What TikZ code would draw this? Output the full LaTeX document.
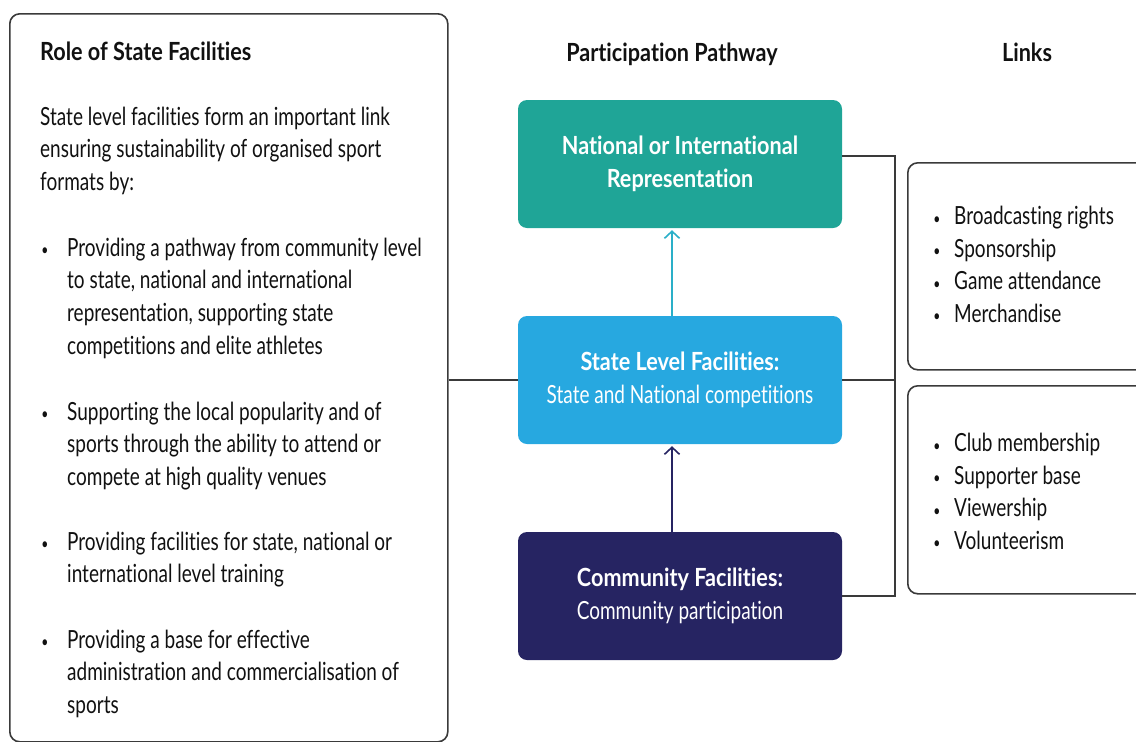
\documentclass[tikz,border=0pt]{standalone}
\usepackage{fontspec}
\setmainfont{Lato}[FakeStretch=0.76,Ligatures=NoCommon,BoldFeatures={FakeStretch=0.865}]
\usetikzlibrary{arrows.meta}
\definecolor{tealbox}{HTML}{1FA597}
\definecolor{bluebox}{HTML}{27A8E0}
\definecolor{navybox}{HTML}{262462}
\definecolor{arrowteal}{HTML}{2AAFC8}
\definecolor{linegrey}{HTML}{3A3A3A}
\definecolor{txt}{HTML}{111111}
\tikzset{
  panel/.style={draw=linegrey, line width=1.6pt, rounded corners=10pt, fill=white, inner sep=0pt, anchor=north west},
  pathbox/.style={rounded corners=9pt, minimum width=324pt, minimum height=128pt, inner sep=0pt, align=center, text=white, font=\fontsize{25}{32.7}\selectfont},
  body/.style={anchor=base west, inner sep=0pt, text=txt, align=left, font=\fontsize{25}{32.7}\selectfont},
  heading/.style={anchor=base, inner sep=0pt, text=txt, font=\fontsize{25}{32.7}\selectfont\bfseries},
  dot/.style={anchor=base, inner sep=0pt, text=txt, yshift=1pt, font=\fontsize{16}{32.7}\selectfont},
  link/.style={draw=linegrey, line width=1.4pt},
  uparrow/.style={line width=1.6pt, -{Straight Barb[length=7pt,width=15pt]}}
}
\begin{document}
\begin{tikzpicture}[x=1pt,y=-1pt]
\useasboundingbox (0,0) rectangle (1136,742);
\clip (0,0) rectangle (1136,742);
% left panel
\node[panel, minimum width=438pt, minimum height=728pt] (role) at (9,13) {};
\node[heading, anchor=base west] (roletitle) at (40,60) {Role of State Facilities};
% multi-line nodes: base anchor = baseline of last line
\node[body] (intro) at (40,190.4) {State level facilities form an important link\\ensuring sustainability of organised sport\\formats by:};
\node[dot] (d1) at (45,256) {•};
\node[body] (b1) at (67,354.1) {Providing a pathway from community level\\to state, national and international\\representation, supporting state\\competitions and elite athletes};
\node[dot] (d2) at (45,420) {•};
\node[body] (b2) at (67,485.4) {Supporting the local popularity and of\\sports through the ability to attend or\\compete at high quality venues};
\node[dot] (d3) at (45,550) {•};
\node[body] (b3) at (67,582.7) {Providing facilities for state, national or\\international level training};
\node[dot] (d4) at (45,648) {•};
\node[body] (b4) at (67,713.4) {Providing a base for effective\\administration and commercialisation of\\sports};
% headings
\node[heading] (pathhead) at (672,61) {Participation Pathway};
\node[heading] (linkhead) at (1027,61) {Links};
% pathway boxes
\node[pathbox, fill=tealbox] (nat) at (680,164) {\bfseries National or International\\\bfseries Representation};
\node[pathbox, fill=bluebox] (state) at (680,380) {\bfseries State Level Facilities:\\State and National competitions};
\node[pathbox, fill=navybox] (comm) at (680,596) {\bfseries Community Facilities:\\Community participation};
% arrows
\coordinate (a1s) at ([xshift=-8pt]state.north);
\coordinate (a1e) at ([xshift=-8pt,yshift=-2pt]nat.south);
\draw[uparrow, draw=arrowteal] (a1s) -- (a1e);
\coordinate (a2s) at ([xshift=-8pt]comm.north);
\coordinate (a2e) at ([xshift=-8pt,yshift=-2pt]state.south);
\draw[uparrow, draw=navybox] (a2s) -- (a2e);
% link panels
\node[panel, minimum width=260pt, minimum height=207pt] (linkA) at (907,162) {};
\node[panel, minimum width=260pt, minimum height=208pt] (linkB) at (907,385) {};
\node[body] (t1) at (954,322.5) {Broadcasting rights\\Sponsorship\\Game attendance\\Merchandise};
\node[dot] (e1) at (937,225) {•};
\node[dot] (e2) at (937,257.5) {•};
\node[dot] (e3) at (937,290) {•};
\node[dot] (e4) at (937,322.5) {•};
\node[body] (t2) at (954,549.5) {Club membership\\Supporter base\\Viewership\\Volunteerism};
\node[dot] (f1) at (937,452) {•};
\node[dot] (f2) at (937,484.5) {•};
\node[dot] (f3) at (937,517) {•};
\node[dot] (f4) at (937,549.5) {•};
% connectors
\coordinate (bus) at (895,0);
\draw[link] (role.east |- state.west) -- (state.west);
\draw[link] ([yshift=8pt]nat.east) -- ([yshift=8pt]nat.east -| bus) -- (comm.east -| bus) -- (comm.east);
\draw[link] (state.east) -- (state.east -| bus);
\end{tikzpicture}
\end{document}
